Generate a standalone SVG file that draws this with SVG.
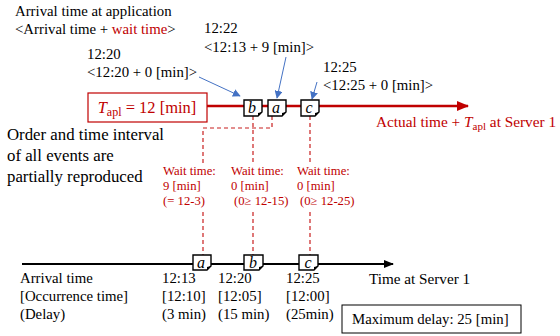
<svg xmlns="http://www.w3.org/2000/svg" width="560" height="336" viewBox="0 0 560 336">
<style>
.red{fill:#c00000}
.big{font-size:16.8px}
.wt{font-size:12.7px;fill:#c00000}
.lbl{font-style:italic;font-size:16px;text-anchor:middle}
.node{fill:#fff;stroke:#000;stroke-width:1.4}
.fold{fill:#000}
.dash{fill:none;stroke:#c81e1e;stroke-width:1.2;stroke-dasharray:4 3}
.blue{fill:none;stroke:#4472c4;stroke-width:1;marker-end:url(#ab)}
</style>
<defs>
<marker id="ab" viewBox="0 0 10 10" refX="9" refY="5" markerWidth="8" markerHeight="8" orient="auto" markerUnits="userSpaceOnUse"><path d="M0,0 L10,5 L0,10 z" fill="#4472c4"/></marker>
<marker id="ar" viewBox="0 0 10 10" refX="9" refY="5" markerWidth="5" markerHeight="5" orient="auto"><path d="M0,1 L10,5 L0,9 z" fill="#c00000"/></marker>
<marker id="ak" viewBox="0 0 10 10" refX="9" refY="5" markerWidth="5" markerHeight="5" orient="auto"><path d="M0,1 L10,5 L0,9 z" fill="#000"/></marker>
</defs>

<g id="connectors">
<line x1="207" y1="106" x2="468" y2="106" stroke="#c00000" stroke-width="2.5" marker-end="url(#ar)"/>
<line x1="22" y1="264" x2="393" y2="264" stroke="#000" stroke-width="2" marker-end="url(#ak)"/>
<path class="dash" d="M272,116 V128 H203 V163"/>
<path class="dash" d="M203,212 V255"/>
<path class="dash" d="M253,116 V163"/>
<path class="dash" d="M253,212 V255"/>
<path class="dash" d="M310,116 V163"/>
<path class="dash" d="M310,212 V255"/>
<line class="blue" x1="199" y1="77" x2="240" y2="96"/>
<line class="blue" x1="286" y1="57" x2="277" y2="98"/>
<line class="blue" x1="317" y1="82" x2="312" y2="99"/>
</g>

<g id="tapl">
<rect x="88" y="93" width="119" height="29" fill="#fff" stroke="#c00000" stroke-width="1.2"/>
<text font-family="Liberation Serif" x="147" y="113" text-anchor="middle" class="red" font-size="16.5"><tspan font-style="italic">T</tspan><tspan font-size="12" dy="3">apl</tspan><tspan dy="-3"> = 12 [min]</tspan></text>
</g>

<g id="top-b">
<path class="node" d="M244,100 h18 v12 l-4,4 h-14 z"/><path class="fold" d="M262,112 l-4,4 v-3 z"/>
<text font-family="Liberation Serif" class="lbl" x="252" y="113">b</text>
</g>
<g id="top-a">
<path class="node" d="M268,100 h18 v12 l-4,4 h-14 z"/><path class="fold" d="M286,112 l-4,4 v-3 z"/>
<text font-family="Liberation Serif" class="lbl" x="276" y="113">a</text>
</g>
<g id="top-c">
<path class="node" d="M301,100 h18 v12 l-4,4 h-14 z"/><path class="fold" d="M319,112 l-4,4 v-3 z"/>
<text font-family="Liberation Serif" class="lbl" x="309" y="113">c</text>
</g>

<g id="bot-a">
<path class="node" d="M193,255 h18 v11 l-4,4 h-14 z"/><path class="fold" d="M211,266 l-4,4 v-3 z"/>
<text font-family="Liberation Serif" class="lbl" x="201" y="268">a</text>
</g>
<g id="bot-b">
<path class="node" d="M244,255 h19 v11 l-4,4 h-15 z"/><path class="fold" d="M263,266 l-4,4 v-3 z"/>
<text font-family="Liberation Serif" class="lbl" x="253" y="268">b</text>
</g>
<g id="bot-c">
<path class="node" d="M299,255 h19 v11 l-4,4 h-15 z"/><path class="fold" d="M318,266 l-4,4 v-3 z"/>
<text font-family="Liberation Serif" class="lbl" x="308" y="268">c</text>
</g>

<g id="labels-top">
<text font-family="Liberation Serif" font-size="14.8" x="15" y="16">Arrival time at application</text>
<text font-family="Liberation Serif" font-size="14.8" x="15" y="34">&lt;Arrival time + <tspan class="red">wait time</tspan>&gt;</text>
<text font-family="Liberation Serif" font-size="14.8" x="204" y="33">12:22</text>
<text font-family="Liberation Serif" font-size="14.8" x="204" y="52">&lt;12:13 + 9 [min]&gt;</text>
<text font-family="Liberation Serif" font-size="14.8" x="87" y="59">12:20</text>
<text font-family="Liberation Serif" font-size="14.8" x="87" y="77">&lt;12:20 + 0 [min]&gt;</text>
<text font-family="Liberation Serif" font-size="14.8" x="323" y="72">12:25</text>
<text font-family="Liberation Serif" font-size="14.8" x="323" y="90">&lt;12:25 + 0 [min]&gt;</text>
<text font-family="Liberation Serif" x="376" y="127" class="red" font-size="15.3">Actual time + <tspan font-style="italic">T</tspan><tspan font-size="11" dy="3">apl</tspan><tspan dy="-3"> at Server 1</tspan></text>
</g>

<g id="note">
<text font-family="Liberation Serif" x="7" y="140" class="big">Order and time interval</text>
<text font-family="Liberation Serif" x="7" y="161" class="big">of all events are</text>
<text font-family="Liberation Serif" x="7" y="182" class="big">partially reproduced</text>
</g>

<g id="wait">
<text font-family="Liberation Serif" class="wt" x="163" y="175">Wait time:</text>
<text font-family="Liberation Serif" class="wt" x="163" y="190">9 [min]</text>
<text font-family="Liberation Serif" class="wt" x="163" y="205">(= 12-3)</text>
<text font-family="Liberation Serif" class="wt" x="231" y="175">Wait time:</text>
<text font-family="Liberation Serif" class="wt" x="231" y="190">0 [min]</text>
<text font-family="Liberation Serif" class="wt" x="234" y="205">(0≥ 12-15)</text>
<text font-family="Liberation Serif" class="wt" x="297" y="175">Wait time:</text>
<text font-family="Liberation Serif" class="wt" x="297" y="190">0 [min]</text>
<text font-family="Liberation Serif" class="wt" x="300" y="205">(0≥ 12-25)</text>
</g>

<g id="labels-bottom">
<text font-family="Liberation Serif" font-size="14.8" x="20" y="283">Arrival time</text>
<text font-family="Liberation Serif" font-size="14.8" x="20" y="301">[Occurrence time]</text>
<text font-family="Liberation Serif" font-size="14.8" x="20" y="319">(Delay)</text>
<text font-family="Liberation Serif" font-size="14.8" x="162" y="283">12:13</text>
<text font-family="Liberation Serif" font-size="14.8" x="162" y="301">[12:10]</text>
<text font-family="Liberation Serif" font-size="14.8" x="162" y="319">(3 min)</text>
<text font-family="Liberation Serif" font-size="14.8" x="218" y="283">12:20</text>
<text font-family="Liberation Serif" font-size="14.8" x="218" y="301">[12:05]</text>
<text font-family="Liberation Serif" font-size="14.8" x="218" y="319">(15 min)</text>
<text font-family="Liberation Serif" font-size="14.8" x="286" y="283">12:25</text>
<text font-family="Liberation Serif" font-size="14.8" x="286" y="301">[12:00]</text>
<text font-family="Liberation Serif" font-size="14.8" x="286" y="319">(25min)</text>
<text font-family="Liberation Serif" font-size="15.2" x="369" y="284">Time at Server 1</text>
</g>

<g id="maxdelay">
<rect x="342" y="305" width="179" height="28" fill="#fff" stroke="#000" stroke-width="1"/>
<text font-family="Liberation Serif" font-size="14.8" x="352" y="324">Maximum delay: 25 [min]</text>
</g>
</svg>
